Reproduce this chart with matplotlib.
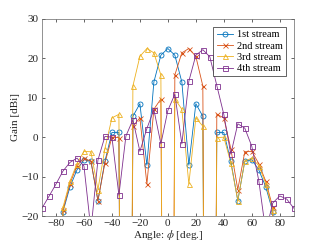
import numpy as np
import matplotlib
matplotlib.use('Agg')
import matplotlib.pyplot as plt

# Beam pattern of four streams, sampled every 5 deg.
# Very low values (-300) stand for nulls that fall far below the axis.
angles = np.arange(-90, 91, 5)

stream1 = [-300, -300, -300, -18.9, -12.6, -8.3, -5.7, -6.1, -16.1, -6.1,
           1.2, 1.2, -300, 5.3, 8.5, -7.1, 14.0, 20.8, 22.5, 20.8,
           14.0, -7.1, 8.5, 5.3, -300, 1.2, 1.2, -6.1, -16.1, -6.1,
           -5.7, -8.3, -12.6, -18.9, -300, -300, -300]

stream2 = [-300, -300, -300, -18.5, -11.8, -7.2, -5.3, -6.1, -16.1, -6.5,
           0.0, -0.1, -300, 2.8, 4.9, -11.9, 7.1, 9.7, -300, 15.8,
           21.4, 22.5, 20.5, 13.0, -300, 5.8, 4.9, -2.9, -13.3, -3.7,
           -3.6, -6.7, -11.2, -17.8, -300, -300, -300]

# 3rd stream is the mirror image of the 2nd
stream3 = stream2[::-1]

stream4 = [-18.0, -15.0, -11.9, -8.6, -6.4, -5.3, -7.3, -23.5, -5.8, 0.2,
           0.0, -14.7, 0.3, 4.4, -3.6, 2.2, 7.0, -1.7, 6.8, 10.9,
           -1.7, 14.2, 20.8, 22.2, 20.4, 13.1, 5.8, -4.3, 3.4, 2.3,
           -2.3, -11.0, -24.0, -16.7, -14.9, -15.7, -18.0]

labels = ['1st stream', '2nd stream', '3rd stream', '4th stream']
colors = ['#0072BD', '#D95319', '#EDB120', '#7E2F8E']
markers = ['o', 'x', '^', 's']

plt.rcParams['font.family'] = ['Liberation Serif', 'DejaVu Serif']
plt.rcParams['mathtext.fontset'] = 'stix'

fig = plt.figure(figsize=(3.24, 2.43), dpi=100)
ax = fig.add_axes([0.1296, 0.111, 0.777, 0.811])

for ys, lab, c, m in zip([stream1, stream2, stream3, stream4], labels, colors, markers):
    ax.plot(angles, ys, color=c, marker=m, markersize=3.6, markerfacecolor='none',
            markeredgewidth=0.6, linewidth=0.6, label=lab)

ax.set_xlim(-90, 90)
ax.set_ylim(-20, 30)
ax.set_xticks(np.arange(-80, 81, 20))
ax.set_yticks(np.arange(-20, 31, 10))
ax.tick_params(direction='in', top=True, right=True, labelsize=8,
               length=2.5, width=0.5, colors='0.15', pad=2.5)
for s in ax.spines.values():
    s.set_linewidth(0.5)
    s.set_color('0.4')

ax.set_xlabel(r'Angle: $\phi$ [deg.]', fontsize=8, color='0.15', labelpad=0)
ax.set_ylabel('Gain [dBi]', fontsize=8, color='0.15', labelpad=1)

leg = ax.legend(loc='upper right', fontsize=7.5, fancybox=False, framealpha=1,
                edgecolor='0.15', handlelength=1.6, handletextpad=0.35,
                borderpad=0.3, labelspacing=0.2, borderaxespad=0.75)
leg.get_frame().set_linewidth(0.5)

fig.savefig('out.png', dpi=100)
